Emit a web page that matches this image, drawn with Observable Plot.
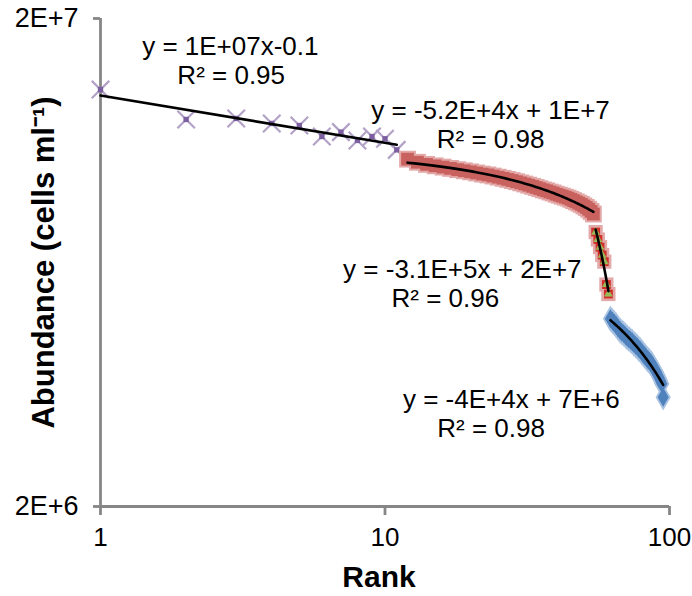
<!DOCTYPE html>
<html><head><meta charset="utf-8">
<script src="https://cdn.jsdelivr.net/npm/d3@7"></script>
<script src="https://cdn.jsdelivr.net/npm/@observablehq/plot@0.6"></script>
<style>body{margin:0;background:#fff;}</style>
</head><body><div id="chart"></div>
<script>
// Values in millions of cells per ml
const purpleRanks = [1,2,3,4,5,6,7,8,9,10,11];
const purpleValues = [14.3,12.42,12.48,12.19,12.07,11.46,11.7,11.25,11.46,11.34,10.76];

const redRanks = [12,13,14,15,16,17,18,19,20,21,22,23,24,25,26,27,28,29,30,31,32,33,34,35,36,37,38,39,40,41,42,43,44,45,46,47,48,49,50,51,52,53,54];
const redValues = [10.30,10.15,10.05,9.98,9.92,9.86,9.80,9.75,9.70,9.65,9.60,9.56,9.51,9.46,9.41,9.36,9.31,9.26,9.21,9.16,9.11,9.06,9.01,8.96,8.91,8.87,8.82,8.78,8.73,8.69,8.65,8.61,8.57,8.52,8.47,8.42,8.37,8.32,8.26,8.20,8.13,8.05,7.95];

const greenRanks = [55,56,57,58,59,60,61];
const greenValues = [7.30,7.05,6.80,6.55,6.35,5.70,5.45];

const blueRanks = [62,63,64,65,66,67,68,69,70,71,72,73,74,75,76,77,78,79,80,81,82,83,84,85,86,87,88,89,90,91,92,93,94,95];
const blueValues = [4.85,4.80,4.75,4.70,4.64,4.59,4.55,4.52,4.48,4.44,4.41,4.38,4.35,4.31,4.28,4.25,4.21,4.18,4.14,4.10,4.07,4.03,4.00,3.97,3.94,3.90,3.85,3.81,3.77,3.72,3.67,3.62,3.57,3.35];

const xTicks = [1,10,100];
const yTicks = [2e6,2e7];

const labelTexts = ["y = 1E+07x-0.1","R² = 0.95","y = -5.2E+4x + 1E+7","R² = 0.98","y = -3.1E+5x + 2E+7","R² = 0.96","y = -4E+4x + 7E+6","R² = 0.98"];
const labelRanks = [2.86,2.88,23.5,23.5,18.7,16.3,27.8,23.6];
const labelValues = [17.5,15.28,12.96,11.3,6.12,5.34,3.31,2.89];

const M = 1e6;
const toRows = (rs, vs) => rs.map((r,i) => ({r, v: vs[i]*M}));
const purple = toRows(purpleRanks, purpleValues);
const red = toRows(redRanks, redValues);
const green = toRows(greenRanks, greenValues);
const blue = toRows(blueRanks, blueValues);
const labels = labelTexts.map((t,i) => ({t, r: labelRanks[i], v: labelValues[i]*M}));

function linFit(xs, ys){
  const n = xs.length, mx = d3.mean(xs), my = d3.mean(ys);
  let sxy=0, sxx=0;
  for(let i=0;i<n;i++){sxy+=(xs[i]-mx)*(ys[i]-my); sxx+=(xs[i]-mx)**2;}
  const b = sxy/sxx; return {a: my-b*mx, b};
}
function linearTrend(rows){
  const f = linFit(rows.map(d=>d.r), rows.map(d=>d.v));
  const lo = d3.min(rows,d=>d.r), hi = d3.max(rows,d=>d.r);
  return d3.range(0,61).map(k=>{const r = lo+(hi-lo)*k/60; return {r, v: f.a+f.b*r};});
}
function powerTrend(rows){
  const f = linFit(rows.map(d=>Math.log(d.r)), rows.map(d=>Math.log(d.v)));
  const lo = d3.min(rows,d=>d.r), hi = d3.max(rows,d=>d.r);
  return [lo,hi].map(r=>({r, v: Math.exp(f.a+f.b*Math.log(r))}));
}

const axisGray = "#868686";
const FS = 26;
const chart = Plot.plot({
  width: 692, height: 596,
  marginLeft: 100, marginRight: 23, marginTop: 18, marginBottom: 90,
  x: {type: "log", domain: [1,100]},
  y: {type: "log", domain: [2e6,2e7]},
  style: {fontFamily: "'Liberation Sans', Arial, sans-serif", fontSize: FS + "px", color: "#000", background: "#fff", overflow: "visible"},
  marks: [
    Plot.axisX({ticks: xTicks, tickFormat: d => String(d), tickSize: 9, tickPadding: 12, stroke: axisGray, strokeWidth: 2.8, label: null, fontSize: 26}),
    Plot.axisY({ticks: yTicks, tickFormat: d => d.toExponential(0).toUpperCase(), tickSize: 7, tickPadding: 15, stroke: axisGray, strokeWidth: 2.8, label: null, fontSize: 27}),
    Plot.ruleX([1], {stroke: axisGray, strokeWidth: 2.8}),
    Plot.ruleY([2e6], {stroke: axisGray, strokeWidth: 2.8}),
    // purple X markers
    Plot.dot(purple, {x: "r", y: "v", symbol: "times", r: 8, stroke: "#B3A2C7", strokeWidth: 2.2}),
    Plot.dot(purple, {x: "r", y: "v", symbol: "square", r: 3, fill: "#7B5FA0"}),
    // red squares
    Plot.dot(red, {x: "r", y: "v", symbol: "square", r: 9.5, fill: "#E3A9A8"}),
    Plot.dot(green, {x: "r", y: "v", symbol: "square", r: 8, fill: "#E3A9A8"}),
    Plot.dot(red, {x: "r", y: "v", symbol: "square", r: 7.2, fill: "#C9625F"}),
    Plot.dot(green, {x: "r", y: "v", symbol: "square", r: 5, fill: "#D0302C"}),
    Plot.dot(green, {x: "r", y: "v", symbol: "triangle", r: 3.3, fill: "#9BBB59"}),
    // blue diamonds
    Plot.dot(blue, {x: "r", y: "v", symbol: "diamond", r: 8, fill: "#A9C3E3"}),
    Plot.dot(blue, {x: "r", y: "v", symbol: "diamond", r: 5.8, fill: "#4F81BD"}),
    // trendlines
    Plot.line(powerTrend(purple), {x: "r", y: "v", stroke: "#000", strokeWidth: 2.6}),
    Plot.line(linearTrend(red), {x: "r", y: "v", stroke: "#000", strokeWidth: 2.6}),
    Plot.line(linearTrend(green), {x: "r", y: "v", stroke: "#000", strokeWidth: 2.6}),
    Plot.line(linearTrend(blue), {x: "r", y: "v", stroke: "#000", strokeWidth: 2.6}),
    // annotations
    Plot.text(labels, {x: "r", y: "v", text: "t", fontSize: FS, fill: "#000"}),
    Plot.text(["Rank"], {frameAnchor: "bottom", dx: -6, dy: 80, fontWeight: "bold", fontSize: 30}),
    Plot.text(["Abundance (cells ml⁻¹)"], {frameAnchor: "left", textAnchor: "middle", dx: -56, rotate: -90, fontWeight: "bold", fontSize: 31})
  ]
});
document.getElementById("chart").append(chart);
</script>
</body></html>
